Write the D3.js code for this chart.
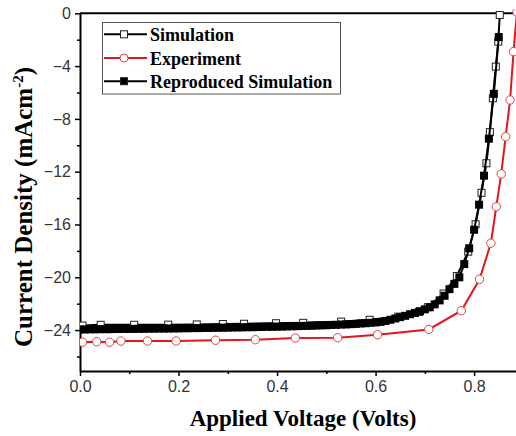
<!DOCTYPE html>
<html>
<head>
<meta charset="utf-8">
<script src="https://cdn.jsdelivr.net/npm/d3@7"></script>
<style>
  body { margin: 0; background: #fff; }
  svg { display: block; }
</style>
</head>
<body>
<div id="chart"></div>
<script>
// J-V curves: simulation, experiment, reproduced simulation

// Simulation (open squares) - [voltage, current density]
var simV = [0.005, 0.042, 0.110, 0.179, 0.237, 0.290, 0.333, 0.398, 0.453, 0.530, 0.588, 0.646, 0.688, 0.706, 0.738, 0.765, 0.788, 0.803, 0.815, 0.825, 0.832, 0.838, 0.844, 0.849, 0.852];
var simJ = [-23.66, -23.60, -23.60, -23.59, -23.57, -23.54, -23.52, -23.48, -23.45, -23.36, -23.22, -22.98, -22.62, -22.27, -21.23, -19.90, -18.06, -15.98, -13.60, -11.36, -9.00, -6.44, -4.04, -2.15, -0.13];

// Experiment (open red circles)
var expV = [0.005, 0.034, 0.060, 0.083, 0.137, 0.195, 0.275, 0.356, 0.437, 0.523, 0.604, 0.708, 0.774, 0.811, 0.834, 0.845, 0.855, 0.864, 0.873, 0.880, 0.887];
var expJ = [-24.92, -24.88, -24.92, -24.83, -24.83, -24.83, -24.77, -24.73, -24.60, -24.58, -24.35, -23.95, -22.53, -20.15, -17.42, -14.65, -12.17, -9.35, -6.57, -2.90, 0.10];

// Reproduced simulation (filled squares), 0.01 V steps
var repV = [0.00, 0.01, 0.02, 0.03, 0.04, 0.05, 0.06, 0.07, 0.08, 0.09,
            0.10, 0.11, 0.12, 0.13, 0.14, 0.15, 0.16, 0.17, 0.18, 0.19,
            0.20, 0.21, 0.22, 0.23, 0.24, 0.25, 0.26, 0.27, 0.28, 0.29,
            0.30, 0.31, 0.32, 0.33, 0.34, 0.35, 0.36, 0.37, 0.38, 0.39,
            0.40, 0.41, 0.42, 0.43, 0.44, 0.45, 0.46, 0.47, 0.48, 0.49,
            0.50, 0.51, 0.52, 0.53, 0.54, 0.55, 0.56, 0.57, 0.58, 0.59,
            0.60, 0.61, 0.62, 0.63, 0.64, 0.65, 0.66, 0.67, 0.68, 0.69,
            0.70, 0.71, 0.72, 0.73, 0.74, 0.75, 0.76, 0.77, 0.78, 0.79,
            0.80, 0.81, 0.82, 0.83, 0.84, 0.85];
var repJ = [-23.95, -23.95, -23.94, -23.94, -23.93, -23.93, -23.93, -23.92, -23.92, -23.91,
            -23.91, -23.91, -23.90, -23.90, -23.89, -23.89, -23.88, -23.88, -23.88, -23.87,
            -23.87, -23.86, -23.86, -23.85, -23.85, -23.84, -23.84, -23.83, -23.82, -23.82,
            -23.81, -23.80, -23.80, -23.79, -23.78, -23.78, -23.77, -23.76, -23.75, -23.75,
            -23.74, -23.73, -23.72, -23.71, -23.70, -23.69, -23.68, -23.67, -23.65, -23.64,
            -23.63, -23.61, -23.60, -23.58, -23.57, -23.55, -23.53, -23.50, -23.48, -23.45,
            -23.42, -23.38, -23.31, -23.22, -23.12, -23.02, -22.92, -22.80, -22.70, -22.57,
            -22.43, -22.27, -22.05, -21.75, -21.40, -20.90, -20.50, -20.00, -19.00, -17.80,
            -16.40, -14.50, -12.30, -9.50, -6.10, -1.80];

var xMajor = [0.0, 0.2, 0.4, 0.6, 0.8];
var xMinor = [0.1, 0.3, 0.5, 0.7];
var yMajor = [0, -4, -8, -12, -16, -20, -24];
var yMinor = [-2, -6, -10, -14, -18, -22, -26];

var legendNames = ["Simulation", "Experiment", "Reproduced Simulation"];

var W = 516, H = 436,
    pLeft = 80, pRight = 516, pTop = 13.3, pBottom = 371;

var svg = d3.select("#chart").append("svg")
    .attr("width", W)
    .attr("height", H);

var x = d3.scaleLinear().domain([0, 0.885]).range([pLeft, pRight]);
var y = d3.scaleLinear().domain([-27.1, 0]).range([pBottom, pTop]);

svg.append("clipPath").attr("id", "plotclip")
  .append("rect")
    .attr("x", pLeft).attr("y", pTop - 4)
    .attr("width", pRight - pLeft + 4).attr("height", pBottom - pTop + 4);

// axes
var tickFont = "'Liberation Sans', Arial, sans-serif";

svg.append("g")
    .attr("transform", "translate(0," + pBottom + ")")
    .call(d3.axisBottom(x).tickValues(xMajor).tickSize(5).tickSizeOuter(0).tickPadding(5).tickFormat(d3.format(".1f")));
svg.append("g")
    .attr("transform", "translate(0," + pBottom + ")")
    .call(d3.axisBottom(x).tickValues(xMinor).tickSize(3).tickSizeOuter(0).tickFormat(""))
    .select(".domain").remove();

svg.append("g")
    .attr("transform", "translate(" + pLeft + ",0)")
    .call(d3.axisLeft(y).tickValues(yMajor).tickSize(5).tickSizeOuter(0).tickPadding(4));
svg.append("g")
    .attr("transform", "translate(" + pLeft + ",0)")
    .call(d3.axisLeft(y).tickValues(yMinor).tickSize(3).tickSizeOuter(0).tickFormat(""))
    .select(".domain").remove();

svg.selectAll(".domain").attr("stroke", "#000").attr("stroke-width", 2);
svg.selectAll(".tick line").attr("stroke", "#000").attr("stroke-width", 1.5);
svg.selectAll(".tick text")
    .attr("font-family", tickFont)
    .attr("font-size", "16px")
    .attr("fill", "#333");

// top frame line
svg.append("line")
    .attr("x1", pLeft).attr("x2", pRight)
    .attr("y1", pTop).attr("y2", pTop)
    .attr("stroke", "#000").attr("stroke-width", 2);

// axis titles
var titleFont = "'Liberation Serif', 'Times New Roman', serif";
svg.append("text")
    .attr("x", 303).attr("y", 426)
    .attr("text-anchor", "middle")
    .attr("font-family", titleFont)
    .attr("font-weight", "bold")
    .attr("font-size", "23px")
    .text("Applied Voltage (Volts)");

var yt = svg.append("text")
    .attr("transform", "translate(32,207) rotate(-90)")
    .attr("text-anchor", "middle")
    .attr("font-family", titleFont)
    .attr("font-weight", "bold")
    .attr("font-size", "25px");
yt.append("tspan").text("Current Density (mAcm");
yt.append("tspan").attr("dy", -9).attr("font-size", "15px").text("-2");
yt.append("tspan").attr("dy", 9).text(")");

// series
var plot = svg.append("g").attr("clip-path", "url(#plotclip)");
var line = d3.line().x(function(d){ return x(d[0]); }).y(function(d){ return y(d[1]); });

var simData = d3.zip(simV, simJ),
    expData = d3.zip(expV, expJ),
    repData = d3.zip(repV, repJ);

var red = "#e3161b";

plot.append("path").datum(simData)
    .attr("d", line).attr("fill", "none").attr("stroke", "#000").attr("stroke-width", 2);
plot.selectAll(".sim").data(simData).enter().append("rect")
    .attr("class", "sim")
    .attr("x", function(d){ return x(d[0]) - 3.5; })
    .attr("y", function(d){ return y(d[1]) - 3.5; })
    .attr("width", 7).attr("height", 7)
    .attr("fill", "#fff").attr("stroke", "#222").attr("stroke-width", 1);

plot.append("path").datum(expData)
    .attr("d", line).attr("fill", "none").attr("stroke", red).attr("stroke-width", 2);
plot.selectAll(".exp").data(expData).enter().append("circle")
    .attr("class", "exp")
    .attr("cx", function(d){ return x(d[0]); })
    .attr("cy", function(d){ return y(d[1]); })
    .attr("r", 4.2)
    .attr("fill", "#fff").attr("stroke", "#d9474a").attr("stroke-width", 1);

plot.append("path").datum(repData)
    .attr("d", line).attr("fill", "none").attr("stroke", "#000").attr("stroke-width", 2);
plot.selectAll(".rep").data(repData).enter().append("rect")
    .attr("class", "rep")
    .attr("x", function(d){ return x(d[0]) - 4; })
    .attr("y", function(d){ return y(d[1]) - 4; })
    .attr("width", 8).attr("height", 8)
    .attr("fill", "#000");

// legend
var lg = svg.append("g");
lg.append("rect")
    .attr("x", 102.5).attr("y", 22.5).attr("width", 238).attr("height", 71.5)
    .attr("fill", "#fff").attr("stroke", "#555").attr("stroke-width", 1);

var rowY = [34.3, 58, 81.2];
legendNames.forEach(function(name, i){
    var col = i === 1 ? red : "#000";
    lg.append("line")
        .attr("x1", 104).attr("x2", 147)
        .attr("y1", rowY[i]).attr("y2", rowY[i])
        .attr("stroke", col).attr("stroke-width", 2);
    if (i === 1) {
        lg.append("circle").attr("cx", 124).attr("cy", rowY[i]).attr("r", 4)
            .attr("fill", "#fff").attr("stroke", "#d9474a").attr("stroke-width", 1);
    } else {
        lg.append("rect").attr("x", 120.5).attr("y", rowY[i] - 3.5).attr("width", 7).attr("height", 7)
            .attr("fill", i === 0 ? "#fff" : "#000").attr("stroke", "#222").attr("stroke-width", 1);
    }
    lg.append("text")
        .attr("x", 150).attr("y", rowY[i] + 6.5)
        .attr("font-family", titleFont)
        .attr("font-weight", "bold")
        .attr("font-size", "18px")
        .text(name);
});
</script>
</body>
</html>
